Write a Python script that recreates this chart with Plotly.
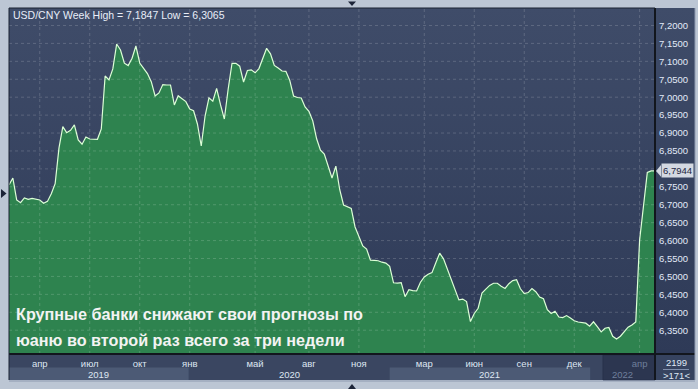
import base64
import html
import pandas as pd
import plotly.graph_objects as go

# ---------------- data ----------------
start_date = "2019-02-08"          # first weekly close shown
usd_cny = [
    6.7551, 6.7746, 6.7133, 6.7057, 6.7188, 6.7152, 6.7177, 6.7146, 6.7133, 6.7040,
    6.7093, 6.7308, 6.7587, 6.8586, 6.9177, 6.9010, 6.9077, 6.9225, 6.8806, 6.8689,
    6.8890, 6.8834, 6.8826, 6.8826, 6.9113, 7.0591, 7.0480, 7.0789, 7.1484, 7.1317,
    7.0948, 7.0881, 7.1088, 7.1428, 7.0954, 7.0815, 7.0658, 7.0432, 7.0033, 7.0117,
    7.0351, 7.0340, 7.0340, 6.9782, 7.0042, 6.9958, 6.9877, 6.9671, 6.9621, 6.9252,
    6.8639, 6.9481, 6.9980, 6.9886, 7.0248, 6.9791, 6.9392, 7.0229, 7.0946, 7.0946,
    7.0865, 7.0424, 7.0745, 7.0764, 7.0681, 7.0798, 7.1057, 7.1364, 7.1208, 7.0887,
    7.0815, 7.0731, 7.0720, 7.0474, 7.0033, 6.9992, 6.9978, 6.9727, 6.9604, 6.9339,
    6.8840, 6.8522, 6.8410, 6.8084, 6.7746, 6.8075, 6.7425, 6.6993, 6.6946, 6.6898,
    6.6379, 6.6086, 6.5852, 6.5763, 6.5453, 6.5445, 6.5437, 6.5397, 6.5372, 6.5280,
    6.4823, 6.4812, 6.4826, 6.4435, 6.4628, 6.4605, 6.4594, 6.4837, 6.4987, 6.5060,
    6.5105, 6.5384, 6.5649, 6.5492, 6.5205, 6.4918, 6.4617, 6.4346, 6.4368, 6.4298,
    6.3741, 6.3967, 6.4112, 6.4536, 6.4644, 6.4750, 6.4809, 6.4809, 6.4728, 6.4664,
    6.4798, 6.4884, 6.4907, 6.4656, 6.4519, 6.4549, 6.4664, 6.4572, 6.4424, 6.4379,
    6.4075, 6.3967, 6.4028, 6.3869, 6.3852, 6.3908, 6.3841, 6.3763, 6.3729, 6.3710,
    6.3696, 6.3612, 6.3735, 6.3598, 6.3453, 6.3554, 6.3576, 6.3328, 6.3252, 6.3331,
    6.3462, 6.3584, 6.3646, 6.3729, 6.6017, 6.7049, 6.7900, 6.7944, 6.7944,
]
dates = pd.date_range(start_date, periods=len(usd_cny), freq="7D")

week_high = "7,1847"
week_low = "6,3065"
title_text = f"USD/CNY Week High = {week_high} Low = {week_low}"

month_labels = ["апр", "июл", "окт", "янв", "май", "авг", "ноя",
                "мар", "июн", "сен", "дек", "апр"]
month_keys = ["2019-04", "2019-07", "2019-10", "2020-01", "2020-05", "2020-08",
              "2020-11", "2021-03", "2021-06", "2021-09", "2021-12", "2022-04"]
year_labels = ["2019", "2020", "2021", "2022"]
year_bounds = ["2020-01-01", "2021-01-01", "2022-01-01"]

y_ticks = [6.35, 6.40, 6.45, 6.50, 6.55, 6.60, 6.65, 6.70, 6.75,
           6.80, 6.85, 6.90, 6.95, 7.00, 7.05, 7.10, 7.15, 7.20]
y_range = [6.2836, 7.2488]

headline = ["Крупные банки снижают свои прогнозы по",
            "юаню во второй раз всего за три недели"]
counter_top = "2199"
counter_bottom = ">171<"

# ---------------- layout geometry (pixels) ----------------
WIDTH, HEIGHT = 698, 389
L, T, R, B = 9, 8, 43, 35
W = WIDTH - L - R
H = HEIGHT - T - B


def pxx(px):
    return (px - L) / W


def pxy(py):
    return (T + H - py) / H


FRAME = "#bcc6d4"
DARK_LINE = "#12161d"
PANEL = "#3a4661"
BAND = "#4c5a75"
LABEL = "#dfe7f4"
GRID = "rgba(255,255,255,0.17)"
FONT = "Liberation Sans, Arial"

last = usd_cny[-1]
last_text = f"{last:.4f}".replace(".", ",")

# month tick positions: first weekly close of each labelled month
month_pos = [dates[dates.strftime("%Y-%m") == k][0] for k in month_keys]
month_text = list(month_labels)
month_text[-1] = f'<span style="color:#6f7f9b">{month_labels[-1]}</span>'

# y tick labels (the one hidden behind the last-price tag is left blank)
y_text = [("" if abs(v - last) < 0.025 else f"{v:.4f}".replace(".", ",")) for v in y_ticks]


def grad_uri(top, bottom):
    svg = ("<svg xmlns='http://www.w3.org/2000/svg' width='10' height='100' "
           "preserveAspectRatio='none'><defs><linearGradient id='g' x1='0' y1='0' "
           f"x2='0' y2='1'><stop offset='0' stop-color='{top}'/><stop offset='1' "
           f"stop-color='{bottom}'/></linearGradient></defs>"
           "<rect width='10' height='100' fill='url(#g)'/></svg>")
    return "data:image/svg+xml;base64," + base64.b64encode(svg.encode()).decode()


fig = go.Figure()
fig.add_trace(go.Scatter(
    x=dates, y=usd_cny, mode="lines", fill="tozeroy",
    fillcolor="#2e834f", line=dict(color="#dcffd6", width=1.2),
    hoverinfo="skip", showlegend=False,
))

shapes = []
# gridlines drawn above the filled area
for d in month_pos:
    shapes.append(dict(type="line", xref="x", yref="paper", x0=d, x1=d, y0=0, y1=1,
                       layer="above", line=dict(color=GRID, width=1, dash="3px,3px")))
for v in y_ticks:
    shapes.append(dict(type="line", xref="paper", yref="y", x0=0, x1=1, y0=v, y1=v,
                       layer="above", line=dict(color=GRID, width=1, dash="3px,3px")))
# right value panel (bottom counter box)
shapes.append(dict(type="rect", xref="paper", yref="paper", x0=pxx(656), x1=pxx(695),
                   y0=pxy(380), y1=pxy(355), fillcolor="#36435f", line_width=0, layer="below"))
# bottom time panel
shapes.append(dict(type="rect", xref="paper", yref="paper", x0=0, x1=1,
                   y0=pxy(380), y1=pxy(354), fillcolor=PANEL, line_width=0, layer="below"))
# year bands 2019 and 2021
shapes.append(dict(type="rect", xref="x", yref="paper", x0=dates[0], x1=year_bounds[0],
                   y0=pxy(380), y1=pxy(367.5), fillcolor=BAND, line_width=0, layer="below"))
shapes.append(dict(type="rect", xref="x", yref="paper", x0=year_bounds[1], x1=year_bounds[2],
                   y0=pxy(380), y1=pxy(367.5), fillcolor=BAND, line_width=0, layer="below"))
# dim 2022 box
shapes.append(dict(type="rect", xref="paper", yref="paper", x0=pxx(603), x1=1,
                   y0=pxy(380), y1=pxy(355), fillcolor="#2c3650",
                   line=dict(color="#26304a", width=1), layer="below"))
# heavy separators
shapes.append(dict(type="line", xref="paper", yref="paper", x0=0, x1=pxx(695),
                   y0=0, y1=0, line=dict(color=DARK_LINE, width=2)))
shapes.append(dict(type="line", xref="paper", yref="paper", x0=1, x1=1,
                   y0=pxy(380), y1=1, line=dict(color=DARK_LINE, width=2)))
shapes.append(dict(type="line", xref="paper", yref="paper", x0=0, x1=1,
                   y0=1, y1=1, line=dict(color="#1b2232", width=1)))
shapes.append(dict(type="line", xref="paper", yref="paper", x0=0, x1=0,
                   y0=pxy(380), y1=1, line=dict(color="#1b2232", width=1)))
shapes.append(dict(type="line", xref="paper", yref="paper", x0=pxx(695), x1=pxx(695),
                   y0=pxy(380), y1=1, line=dict(color="#8e9ab0", width=1)))
shapes.append(dict(type="line", xref="paper", yref="paper", x0=0, x1=pxx(695),
                   y0=pxy(381), y1=pxy(381), line=dict(color="#8e9ab0", width=1)))
# counter divider
shapes.append(dict(type="line", xref="paper", yref="paper", x0=pxx(663), x1=pxx(689),
                   y0=pxy(369.5), y1=pxy(369.5), line=dict(color="#8090ad", width=1)))
# small navigation triangles on the frame
tri = "#1c2438"
shapes.append(dict(type="path", xref="paper", yref="paper",
                   path=f"M {pxx(348)} {pxy(1.5)} L {pxx(356)} {pxy(1.5)} L {pxx(352)} {pxy(6)} Z",
                   fillcolor=tri, line_width=0))
shapes.append(dict(type="path", xref="paper", yref="paper",
                   path=f"M {pxx(348)} {pxy(389)} L {pxx(356)} {pxy(389)} L {pxx(352)} {pxy(384)} Z",
                   fillcolor=tri, line_width=0))
shapes.append(dict(type="path", xref="paper", yref="paper",
                   path=f"M {pxx(1)} {pxy(189)} L {pxx(1)} {pxy(198)} L {pxx(6.5)} {pxy(193.5)} Z",
                   fillcolor=tri, line_width=0))
# last-price tag notch
shapes.append(dict(type="path", xref="paper", yref="y",
                   path=f"M {pxx(656)} {last} L {pxx(661)} {last + 0.0165} L {pxx(661)} {last - 0.0165} Z",
                   fillcolor="#d4d9e2", line_width=0))

images = [
    dict(source=grad_uri("#3f4c69", "#2e3a57"), xref="paper", yref="paper",
         x=0, y=1, sizex=1, sizey=1, sizing="stretch", layer="below"),
    dict(source=grad_uri("#3f4c69", "#2e3a57"), xref="paper", yref="paper",
         x=pxx(656), y=1, sizex=pxx(695) - pxx(656), sizey=1, sizing="stretch", layer="below"),
]

annotations = []
annotations.append(dict(text=title_text, xref="paper", yref="paper", x=pxx(11), y=pxy(15),
                        xanchor="left", yanchor="middle", showarrow=False,
                        font=dict(family=FONT, size=10.5, color="#e8eef8")))
for i, line in enumerate(headline):
    annotations.append(dict(text=line, xref="paper", yref="paper", x=pxx(14), y=pxy(313.5 + 26 * i),
                            xanchor="left", yanchor="middle", showarrow=False,
                            font=dict(family=FONT, size=16.2, color="#f3f3f3", weight="bold")))
# year labels centred on their spans
year_starts = [dates[0]] + [pd.Timestamp(b) for b in year_bounds]
year_ends = [pd.Timestamp(b) for b in year_bounds] + [dates[-1]]
for lab, s, e in zip(year_labels, year_starts, year_ends):
    col = "#6f7f9b" if lab == year_labels[-1] else "#dfe6f2"
    annotations.append(dict(text=lab, xref="x", yref="paper", x=s + (e - s) / 2, y=pxy(374),
                            xanchor="center", yanchor="middle", showarrow=False,
                            font=dict(family=FONT, size=9.5, color=col)))
# last price tag
annotations.append(dict(text=last_text, xref="paper", yref="y",
                        x=pxx(661), y=last, xanchor="left", yanchor="middle", showarrow=False,
                        bgcolor="#d4d9e2", borderpad=1,
                        font=dict(family=FONT, size=9.5, color="#1d2640")))
annotations.append(dict(text=html.escape(counter_top), xref="paper", yref="paper",
                        x=pxx(676), y=pxy(362.5),
                        xanchor="center", yanchor="middle", showarrow=False,
                        font=dict(family=FONT, size=9.5, color=LABEL)))
annotations.append(dict(text=html.escape(counter_bottom), xref="paper", yref="paper",
                        x=pxx(676), y=pxy(375),
                        xanchor="center", yanchor="middle", showarrow=False,
                        font=dict(family=FONT, size=9.5, color=LABEL)))

fig.update_layout(
    width=WIDTH, height=HEIGHT,
    margin=dict(l=L, r=R, t=T, b=B, pad=0),
    paper_bgcolor=FRAME, plot_bgcolor="#37445f",
    separators=", ",
    shapes=shapes, images=images, annotations=annotations,
    showlegend=False,
    xaxis=dict(type="date", range=[dates[0], dates[-1]],
               tickmode="array", tickvals=month_pos, ticktext=month_text,
               showgrid=False, zeroline=False, ticks="", showline=False,
               tickfont=dict(family=FONT, size=9.5, color="#dfe6f2"),
               ticklabelstandoff=2),
    yaxis=dict(side="right", range=y_range, tickmode="array", tickvals=y_ticks,
               ticktext=y_text, showgrid=False, zeroline=False, ticks="", showline=False,
               tickfont=dict(family=FONT, size=9.5, color="#e2eaf8"),
               ticklabelstandoff=3),
)

fig.write_html("out.html")
